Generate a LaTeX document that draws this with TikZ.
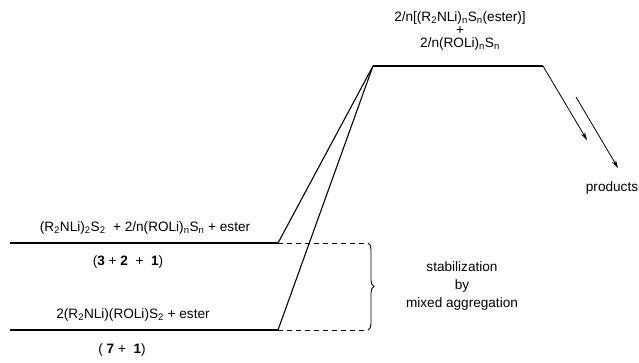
\documentclass[tikz,border=0pt]{standalone}
\usepackage{fontspec}
\setmainfont{Liberation Sans}
\usetikzlibrary{decorations.pathreplacing,arrows.meta}
\newcommand{\sub}[1]{\textsubscript{#1}}
\begin{document}
\begin{tikzpicture}[x=1pt,y=-1pt,
  level/.style={line width=1.3pt},
  slope/.style={line width=1.1pt},
  guide/.style={line width=0.9pt,dashed,dash pattern=on 5pt off 4pt},
  label/.style={font=\fontsize{13.6}{16}\selectfont,inner sep=0pt,align=center},
  flow/.style={line width=0.8pt,-{Stealth[length=8pt,width=4.5pt]}}]
\useasboundingbox (0,0) rectangle (639,362);

% energy levels
\coordinate (ul) at (10,243);
\coordinate (ur) at (278,243);
\coordinate (ll) at (10,330);
\coordinate (lr) at (278,330);
\coordinate (tl) at (373,66);
\coordinate (tr) at (543,66);
\coordinate (ud) at (368,243);
\coordinate (ld) at (368,330);

\draw[level] (ul) -- (ur);
\draw[level] (ll) -- (lr);
\draw[level] (tl) -- (tr);

% transition-state slopes
\draw[slope] (ur) -- (tl);
\draw[slope] (lr) -- (tl);

% dashed extensions and brace
\draw[guide] (ur) -- (ud);
\draw[guide] (lr) -- (ld);
\draw[line width=0.9pt,decorate,decoration={brace,amplitude=6pt}] (ud) -- (ld);

% product arrows
\coordinate (a2s) at (576,97);
\coordinate (a2e) at (618,168);
\coordinate (a1e) at (587,140);
\draw[flow] (tr) -- (a1e);
\draw[flow] (a2s) -- (a2e);

% labels
\node[label] (top) at (460,31) {2/n[(R\sub{2}NLi)\sub{n}S\sub{n}(ester)]\\[-3pt]+\\[-3pt]2/n(ROLi)\sub{n}S\sub{n}};
\node[label] (prod) at (612,188) {products};
\node[label] (up) at (145,228) {(R\sub{2}NLi)\sub{2}S\sub{2}\ \ + 2/n(ROLi)\sub{n}S\sub{n} + ester};
\node[label] (upn) at (128,262) {(\textbf{3} + \textbf{2}\ \ + \ \textbf{1})};
\node[label] (lo) at (133,315) {2(R\sub{2}NLi)(ROLi)S\sub{2} + ester};
\node[label] (lon) at (122,350) {( \textbf{7} + \ \textbf{1})};
\node[label,align=center] (stab) at (462,286) {stabilization\\[2pt]by\\[2pt]mixed aggregation};
\end{tikzpicture}
\end{document}
